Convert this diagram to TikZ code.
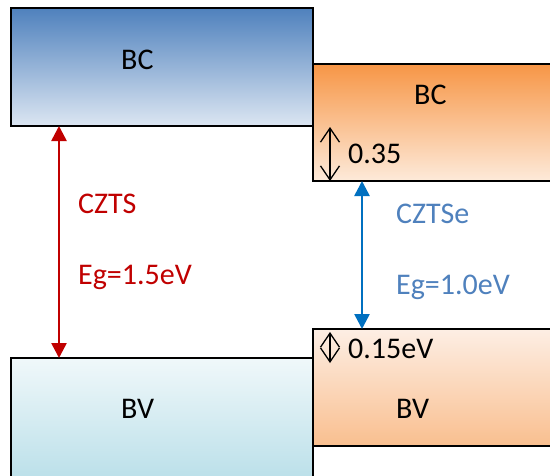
\documentclass[tikz,border=0pt]{standalone}
\usepackage{fontspec}
\setmainfont{Carlito}
\usetikzlibrary{arrows.meta}
\definecolor{bcblueT}{HTML}{4F81BD}
\definecolor{bcblueM}{HTML}{8FACD4}
\definecolor{bcblueB}{HTML}{DCE6F2}
\definecolor{bcoraT}{HTML}{F79646}
\definecolor{bcoraB}{HTML}{FDEADA}
\definecolor{bvcyanT}{HTML}{F0F8FA}
\definecolor{bvcyanB}{HTML}{B7DEE8}
\definecolor{bvoraT}{HTML}{FDEEE4}
\definecolor{bvoraB}{HTML}{F9BF8F}
\definecolor{cztsred}{HTML}{C00000}
\definecolor{cztseblue}{HTML}{4F81BD}
\definecolor{arrblue}{HTML}{0070C0}
\tikzset{
  band/.style={draw=black, line width=1.6pt, inner sep=0pt, outer sep=0pt, anchor=north west},
  lbl/.style={inner sep=0pt, anchor=base west, font=\fontsize{30}{36}\selectfont},
  gaparrow/.style={line width=2.6pt, {Triangle[length=15pt,width=15pt]}-{Triangle[length=15pt,width=15pt]}},
  offarrow/.style={line width=1.3pt, black, {Straight Barb[length=14pt,width=19pt]}-{Straight Barb[length=14pt,width=19pt]}}
}
\begin{document}
\begin{tikzpicture}[x=1pt,y=-1pt]
\useasboundingbox (0,0) rectangle (550,475);
\clip (0,0) rectangle (550,475);
% bands
\node[band, top color=bcblueT, middle color=bcblueM, bottom color=bcblueB, minimum width=302pt, minimum height=118pt] (lbc) at (11,8) {};
\node[band, top color=bcoraT, bottom color=bcoraB, minimum width=260pt, minimum height=117pt] (rbc) at (313,64) {};
\node[band, top color=bvcyanT, bottom color=bvcyanB, minimum width=302pt, minimum height=130pt] (lbv) at (11,358) {};
\node[band, top color=bvoraT, bottom color=bvoraB, minimum width=260pt, minimum height=117pt] (rbv) at (313,329) {};
% band labels
\node[lbl] (tlbc) at (121,69) {BC};
\node[lbl] (trbc) at (414,104) {BC};
\node[lbl] (tlbv) at (121,418) {BV};
\node[lbl] (trbv) at (396,418) {BV};
% gap arrows
\coordinate (ra) at (59,0);
\coordinate (ba) at (362,0);
\coordinate (sa) at (330,0);
\draw[gaparrow, cztsred] (lbc.south -| ra) -- (lbv.north -| ra);
\draw[gaparrow, arrblue] (rbc.south -| ba) -- (rbv.north -| ba);
\node[lbl, text=cztsred] (czts) at (78,213) {CZTS};
\node[lbl, text=cztsred] (eg1) at (78,284) {Eg=1.5eV};
\node[lbl, text=cztseblue] (cztse) at (396,223) {CZTSe};
\node[lbl, text=cztseblue] (eg2) at (396,294) {Eg=1.0eV};
% offsets
\coordinate (o1top) at (330,127);
\coordinate (o2bot) at (330,363);
\draw[offarrow] (o1top) -- (rbc.south -| sa);
\draw[offarrow] (rbv.north -| sa) ++(0,3) -- (o2bot);
\node[lbl] (t035) at (348,163) {0.35};
\node[lbl] (t015) at (348,358) {0.15eV};
\end{tikzpicture}
\end{document}
